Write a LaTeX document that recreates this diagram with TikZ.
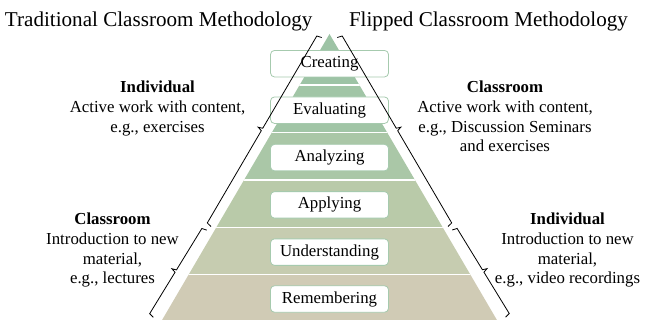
\documentclass[tikz,border=0pt]{standalone}
\usepackage{fontspec}
\setmainfont{Liberation Serif}
\usetikzlibrary{decorations}

% a flat bracket: short end ticks bent inward, small pointed notch outward in the middle
\pgfdeclaredecoration{sidebrace}{draw}{%
  \state{draw}[width=+\pgfdecoratedremainingdistance,next state=final]{%
    \pgfpathmoveto{\pgfpointorigin}%
    \pgfpathlineto{\pgfqpoint{1.2pt}{\pgfdecorationsegmentamplitude}}%
    \pgfpathlineto{\pgfpoint{0.5*\pgfdecoratedremainingdistance-1.4pt}{\pgfdecorationsegmentamplitude}}%
    \pgfpathlineto{\pgfpoint{0.5*\pgfdecoratedremainingdistance}{1.9*\pgfdecorationsegmentamplitude}}%
    \pgfpathlineto{\pgfpoint{0.5*\pgfdecoratedremainingdistance+1.4pt}{\pgfdecorationsegmentamplitude}}%
    \pgfpathlineto{\pgfpoint{\pgfdecoratedremainingdistance-1.2pt}{\pgfdecorationsegmentamplitude}}%
    \pgfpathlineto{\pgfpoint{\pgfdecoratedremainingdistance}{0pt}}%
  }%
  \state{final}{}%
}

\definecolor{layA}{HTML}{9DC3A5}
\definecolor{layB}{HTML}{A1C5A6}
\definecolor{layC}{HTML}{AAC7A7}
\definecolor{layD}{HTML}{B9CAA9}
\definecolor{layE}{HTML}{C6CCB0}
\definecolor{layF}{HTML}{D0CBB5}
\definecolor{boxedge}{HTML}{A6CAAE}

\begin{document}
\begin{tikzpicture}[x=1pt,y=-1pt,
  every node/.style={inner sep=0pt, outer sep=0pt},
  heading/.style={font=\fontsize{21.1}{24}\selectfont, anchor=base west},
  note/.style={font=\fontsize{16.8}{19.7}\selectfont, align=center, anchor=north},
  levelbox/.style={draw=boxedge, line width=0.8pt, fill=white, rounded corners=4pt,
    minimum width=118pt, minimum height=26.5pt, font=\fontsize{16.8}{20}\selectfont},
  separator/.style={white, line width=1.3pt},
  bracket/.style={draw=black, line width=0.8pt, decorate, decoration={sidebrace, amplitude=5pt}}
]
\useasboundingbox (0,0) rectangle (655,320);

% pyramid body, banded from top to bottom
\coordinate (apex) at (329.5,34);
\coordinate (baseL) at (160.9,322);
\coordinate (baseR) at (498.1,322);
\begin{scope}
  \clip (apex) -- (baseR) -- (baseL) -- cycle;
  \fill[layA] (100,30) rectangle (560,85);
  \fill[layB] (100,85) rectangle (560,132.6);
  \fill[layC] (100,132.6) rectangle (560,180);
  \fill[layD] (100,180) rectangle (560,227.3);
  \fill[layE] (100,227.3) rectangle (560,274.7);
  \fill[layF] (100,274.7) rectangle (560,330);
  \foreach \yy in {85,132.6,180,227.3,274.7}
    \draw[separator] (100,\yy) -- (560,\yy);
\end{scope}

% level labels
\node[levelbox] (creating)      at (329.5,63.7)  {Creating};
\node[levelbox] (evaluating)    at (329.5,110.2) {Evaluating};
\node[levelbox] (analyzing)     at (329.5,157.6) {Analyzing};
\node[levelbox] (applying)      at (329.5,204.9) {Applying};
\node[levelbox] (understanding) at (329.5,252.1) {Understanding};
\node[levelbox] (remembering)   at (329.5,299.0) {Remembering};

% headings
\node[heading] (traditional) at (5,26.5) {Traditional Classroom Methodology};
\node[heading] (flipped) at (349,26.5) {Flipped Classroom Methodology};

% side notes
\node[note] (tradTop) at (157.5,81.1)
  {\textbf{Individual}\\Active work with content,\\e.g., exercises};
\node[note] (tradBottom) at (112.5,213.1)
  {\textbf{Classroom}\\Introduction to new\\material,\\e.g., lectures};
\node[note] (flipTop) at (505,81.1)
  {\textbf{Classroom}\\Active work with content,\\e.g., Discussion Seminars\\and exercises};
\node[note] (flipBottom) at (567.5,213.1)
  {\textbf{Individual}\\Introduction to new\\material,\\e.g., video recordings};

% bracket end points along the slanted sides
\coordinate (lUpTop) at (321.7,37.5);
\coordinate (lUpBot) at (211.0,226.5);
\coordinate (lLoTop) at (206.8,230.0);
\coordinate (lLoBot) at (153.3,317.3);
\coordinate (rUpTop) at (337.3,37.5);
\coordinate (rUpBot) at (448.0,226.5);
\coordinate (rLoTop) at (452.2,230.0);
\coordinate (rLoBot) at (505.7,317.3);

\draw[bracket] (lUpBot) -- (lUpTop);
\draw[bracket] (lLoBot) -- (lLoTop);
\draw[bracket] (rUpTop) -- (rUpBot);
\draw[bracket] (rLoTop) -- (rLoBot);
\end{tikzpicture}
\end{document}
